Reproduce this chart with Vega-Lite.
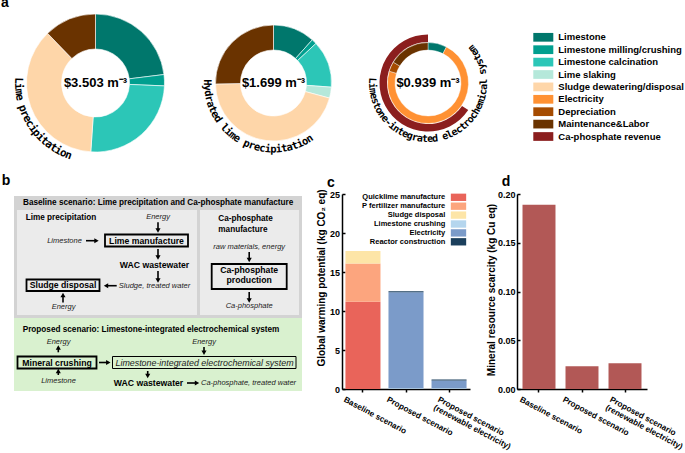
{
  "$schema": "https://vega.github.io/schema/vega-lite/v6.json",
  "background": "white",
  "padding": {"left": 1, "top": -5, "right": 0, "bottom": 0},
  "spacing": 12,
  "config": {
    "view": {"stroke": null},
    "font": "Liberation Sans",
    "text": {"color": "black"},
    "title": {"font": "Liberation Sans", "color": "black"}
  },
  "datasets": {
    "d1": [
      {"cat": "Limestone", "v": 0.807},
      {"cat": "Limestone milling/crushing", "v": 0.092},
      {"cat": "Limestone calcination", "v": 0.890},
      {"cat": "Sludge dewatering/disposal", "v": 1.285},
      {"cat": "Maintenance&Labor", "v": 0.428}
    ],
    "d2": [
      {"cat": "Limestone", "v": 0.198},
      {"cat": "Limestone milling/crushing", "v": 0.024},
      {"cat": "Limestone calcination", "v": 0.222},
      {"cat": "Lime slaking", "v": 0.052},
      {"cat": "Sludge dewatering/disposal", "v": 0.774},
      {"cat": "Maintenance&Labor", "v": 0.429}
    ],
    "d3in": [
      {"cat": "Limestone", "v": 0.205},
      {"cat": "Electricity", "v": 1.970},
      {"cat": "Depreciation", "v": 0.106},
      {"cat": "Maintenance&Labor", "v": 0.447}
    ],
    "d3out": [
      {"cat": "Net cost", "v": 0.939},
      {"cat": "Ca-phosphate revenue", "v": 1.789}
    ],
    "lab1": [{"c":"L"},{"c":"i"},{"c":"m"},{"c":"e"},{"c":" "},{"c":"p"},{"c":"r"},{"c":"e"},{"c":"c"},{"c":"i"},{"c":"p"},{"c":"i"},{"c":"t"},{"c":"a"},{"c":"t"},{"c":"i"},{"c":"o"},{"c":"n"}],
    "lab2": [{"c":"H"},{"c":"y"},{"c":"d"},{"c":"r"},{"c":"a"},{"c":"t"},{"c":"e"},{"c":"d"},{"c":" "},{"c":"l"},{"c":"i"},{"c":"m"},{"c":"e"},{"c":" "},{"c":"p"},{"c":"r"},{"c":"e"},{"c":"c"},{"c":"i"},{"c":"p"},{"c":"i"},{"c":"t"},{"c":"a"},{"c":"t"},{"c":"i"},{"c":"o"},{"c":"n"}],
    "lab3": [{"c":"L"},{"c":"i"},{"c":"m"},{"c":"e"},{"c":"s"},{"c":"t"},{"c":"o"},{"c":"n"},{"c":"e"},{"c":"-"},{"c":"i"},{"c":"n"},{"c":"t"},{"c":"e"},{"c":"g"},{"c":"r"},{"c":"a"},{"c":"t"},{"c":"e"},{"c":"d"},{"c":" "},{"c":"e"},{"c":"l"},{"c":"e"},{"c":"c"},{"c":"t"},{"c":"r"},{"c":"o"},{"c":"c"},{"c":"h"},{"c":"e"},{"c":"m"},{"c":"i"},{"c":"c"},{"c":"a"},{"c":"l"},{"c":" "},{"c":"s"},{"c":"y"},{"c":"s"},{"c":"t"},{"c":"e"},{"c":"m"}],
    "boxes": [
      {"kind": "baseline", "x": 1, "x2": 289, "y": 2, "y2": 124},
      {"kind": "inner", "x": 4, "x2": 184, "y": 16, "y2": 121},
      {"kind": "inner", "x": 187, "x2": 286, "y": 16, "y2": 121},
      {"kind": "proposed", "x": 1, "x2": 289, "y": 124, "y2": 197}
    ],
    "procs": [
      {"kind": "process", "x": 92, "x2": 175, "y": 40.5, "y2": 52.5},
      {"kind": "process", "x": 13.5, "x2": 86.5, "y": 85.5, "y2": 97},
      {"kind": "process", "x": 198.7, "x2": 273.7, "y": 70, "y2": 95},
      {"kind": "process", "x": 4.5, "x2": 83.5, "y": 162.5, "y2": 174.5},
      {"kind": "system", "x": 99.5, "x2": 283, "y": 162.5, "y2": 174.5}
    ],
    "texts": [
      {"kind": "header", "t": "Baseline scenario: Lime precipitation and Ca-phosphate manufacture", "x": 10, "y": 8.5},
      {"kind": "header", "t": "Proposed scenario: Limestone-integrated electrochemical system", "x": 9.7, "y": 135.7},
      {"kind": "header", "t": "Lime precipitation", "x": 12.7, "y": 24},
      {"kind": "header", "t": "Ca-phosphate", "x": 205.3, "y": 25},
      {"kind": "header", "t": "manufacture", "x": 205.3, "y": 35.7},
      {"kind": "proc", "t": "Lime manufacture", "x": 133.5, "y": 46.5},
      {"kind": "proc", "t": "WAC wastewater", "x": 141.5, "y": 71},
      {"kind": "proc", "t": "Sludge disposal", "x": 50, "y": 91.3},
      {"kind": "proc", "t": "Ca-phosphate", "x": 236.2, "y": 76},
      {"kind": "proc", "t": "production", "x": 236.2, "y": 86},
      {"kind": "proc", "t": "Mineral crushing", "x": 44, "y": 168.5},
      {"kind": "proc", "t": "WAC wastewater", "x": 135.5, "y": 189},
      {"kind": "flow", "t": "Energy", "x": 145, "y": 23.3},
      {"kind": "flow", "t": "Limestone", "x": 51.5, "y": 46.7},
      {"kind": "flow", "t": "Sludge, treated water", "x": 141.5, "y": 91.7},
      {"kind": "flow", "t": "Energy", "x": 50.5, "y": 113.3},
      {"kind": "flow", "t": "raw materials, energy", "x": 236.2, "y": 53},
      {"kind": "flow", "t": "Ca-phosphate", "x": 236.2, "y": 111.7},
      {"kind": "flow", "t": "Energy", "x": 45.5, "y": 148.3},
      {"kind": "flow", "t": "Energy", "x": 191, "y": 148.3},
      {"kind": "flow", "t": "Limestone", "x": 45.5, "y": 187.3},
      {"kind": "flowL", "t": "Ca-phosphate, treated water", "x": 188, "y": 189},
      {"kind": "sys", "t": "Limestone-integrated electrochemical system", "x": 191.5, "y": 168.5}
    ],
    "arrows": [
      {"dir": "down", "x": 145, "y": 28.3, "x2": 145, "y2": 36.5},
      {"dir": "right", "x": 73, "y": 46.7, "x2": 83.5, "y2": 46.7},
      {"dir": "down", "x": 145, "y": 55, "x2": 145, "y2": 63.5},
      {"dir": "down", "x": 145, "y": 77, "x2": 145, "y2": 86.5},
      {"dir": "left", "x": 103.7, "y": 91.7, "x2": 93, "y2": 91.7},
      {"dir": "up", "x": 50, "y": 108.5, "x2": 50, "y2": 101},
      {"dir": "down", "x": 236.2, "y": 58, "x2": 236.2, "y2": 66},
      {"dir": "down", "x": 236.2, "y": 98, "x2": 236.2, "y2": 106.5},
      {"dir": "up", "x": 45.3, "y": 158.3, "x2": 45.3, "y2": 153.5},
      {"dir": "up", "x": 45.3, "y": 181, "x2": 45.3, "y2": 177},
      {"dir": "right", "x": 86, "y": 168.5, "x2": 95.3, "y2": 168.5},
      {"dir": "down", "x": 191, "y": 153, "x2": 191, "y2": 158.8},
      {"dir": "down", "x": 134.7, "y": 177, "x2": 134.7, "y2": 182},
      {"dir": "right", "x": 174, "y": 189, "x2": 184, "y2": 189}
    ],
    "gwp": [
      {"scenario": "Baseline scenario", "src": "Quicklime manufacture", "v": 11.2},
      {"scenario": "Baseline scenario", "src": "P fertilizer manufacture", "v": 4.9},
      {"scenario": "Baseline scenario", "src": "Sludge disposal", "v": 1.6},
      {"scenario": "Proposed scenario", "src": "Limestone crushing", "v": 0.1},
      {"scenario": "Proposed scenario", "src": "Electricity", "v": 12.3},
      {"scenario": "Proposed scenario", "src": "Reactor construction", "v": 0.12},
      {"scenario": "Proposed scenario|(renewable electricity)", "src": "Limestone crushing", "v": 0.1},
      {"scenario": "Proposed scenario|(renewable electricity)", "src": "Electricity", "v": 1.0},
      {"scenario": "Proposed scenario|(renewable electricity)", "src": "Reactor construction", "v": 0.12}
    ],
    "mrs": [
      {"scenario": "Baseline scenario", "v": 0.189},
      {"scenario": "Proposed scenario", "v": 0.0233},
      {"scenario": "Proposed scenario|(renewable electricity)", "v": 0.0264}
    ]
  },
  "resolve": {
    "scale": {"color": "independent", "theta": "independent", "angle": "independent", "shape": "independent", "fill": "independent", "x": "independent", "y": "independent"},
    "legend": {"color": "independent", "fill": "independent", "shape": "independent"}
  },
  "vconcat": [
    {
      "bounds": "flush",
      "spacing": 0,
      "resolve": {
        "scale": {"color": "independent", "theta": "independent", "angle": "independent"},
        "legend": {"color": "independent"}
      },
      "hconcat": [
        {
          "width": 165,
          "height": 140,
          "title": {"text": "a", "anchor": "start", "frame": "group", "fontSize": 14, "fontWeight": "bold", "dx": -12, "offset": -8, "baseline": "alphabetic"},
          "layer": [
            {
              "data": {"name": "d1"},
              "transform": [{"window": [{"op": "row_number", "as": "k"}]}],
              "mark": {"type": "arc", "outerRadius": 69, "innerRadius": 34, "stroke": "white", "strokeWidth": 0.6},
              "encoding": {
                "theta": {"field": "v", "type": "quantitative", "stack": true},
                "order": {"field": "k", "type": "quantitative"},
                "color": {"field": "cat", "type": "nominal", "legend": null,
                  "scale": {"domain": ["Limestone", "Limestone milling/crushing", "Limestone calcination", "Lime slaking", "Sludge dewatering/disposal", "Electricity", "Depreciation", "Maintenance&Labor", "Ca-phosphate revenue"],
                            "range": ["#00776c", "#009f8f", "#2cc6b7", "#b5e8da", "#fed6a9", "#ff9133", "#a54b00", "#6a3300", "#8b1e1e"]}}
              }
            },
            {
              "data": {"values": [{"t": "$3.503 m\u207b\u00b3"}]},
              "mark": {"type": "text", "fontSize": 13, "fontWeight": "bold", "color": "black"},
              "encoding": {"text": {"field": "t"}}
            },
            {
              "data": {"name": "lab1"},
              "transform": [{"window": [{"op": "row_number", "as": "i"}]}],
              "mark": {"type": "text", "font": "DejaVu Sans Mono", "fontWeight": "bold", "fontSize": 11, "align": "center", "baseline": "middle", "color": "black"},
              "encoding": {
                "theta": {"field": "i", "type": "quantitative", "stack": null, "scale": {"domain": [1, 18], "range": [4.7438, 3.4977], "zero": false}},
                "radius": {"value": 77.5},
                "angle": {"field": "i", "type": "quantitative", "scale": {"domain": [1, 18], "range": [91.8, 20.4], "zero": false}},
                "text": {"field": "c"}
              }
            }
          ],
          "resolve": {"scale": {"theta": "independent"}}
        },
        {
          "width": 191,
          "height": 140,
          "layer": [
            {
              "data": {"name": "d2"},
              "transform": [{"window": [{"op": "row_number", "as": "k"}]}],
              "mark": {"type": "arc", "outerRadius": 58, "innerRadius": 33, "stroke": "white", "strokeWidth": 0.6},
              "encoding": {
                "theta": {"field": "v", "type": "quantitative", "stack": true},
                "order": {"field": "k", "type": "quantitative"},
                "color": {"field": "cat", "type": "nominal", "legend": null,
                  "scale": {"domain": ["Limestone", "Limestone milling/crushing", "Limestone calcination", "Lime slaking", "Sludge dewatering/disposal", "Electricity", "Depreciation", "Maintenance&Labor", "Ca-phosphate revenue"],
                            "range": ["#00776c", "#009f8f", "#2cc6b7", "#b5e8da", "#fed6a9", "#ff9133", "#a54b00", "#6a3300", "#8b1e1e"]}}
              }
            },
            {
              "data": {"values": [{"t": "$1.699 m\u207b\u00b3"}]},
              "mark": {"type": "text", "fontSize": 13, "fontWeight": "bold", "color": "black"},
              "encoding": {"text": {"field": "t"}}
            },
            {
              "data": {"name": "lab2"},
              "transform": [{"window": [{"op": "row_number", "as": "i"}]}],
              "mark": {"type": "text", "font": "DejaVu Sans Mono", "fontWeight": "bold", "fontSize": 10.5, "align": "center", "baseline": "middle", "color": "black"},
              "encoding": {
                "theta": {"field": "i", "type": "quantitative", "stack": null, "scale": {"domain": [1, 27], "range": [4.7194, 2.5639], "zero": false}},
                "radius": {"value": 66.5},
                "angle": {"field": "i", "type": "quantitative", "scale": {"domain": [1, 27], "range": [90.4, -33.1], "zero": false}},
                "text": {"field": "c"}
              }
            }
          ],
          "resolve": {"scale": {"theta": "independent"}}
        },
        {
          "width": 118,
          "height": 140,
          "layer": [
            {
              "data": {"name": "d3in"},
              "transform": [{"window": [{"op": "row_number", "as": "k"}]}],
              "mark": {"type": "arc", "outerRadius": 40.5, "innerRadius": 33, "stroke": "white", "strokeWidth": 0.4},
              "encoding": {
                "theta": {"field": "v", "type": "quantitative", "stack": true},
                "order": {"field": "k", "type": "quantitative"},
                "color": {"field": "cat", "type": "nominal",
                  "scale": {"domain": ["Limestone", "Limestone milling/crushing", "Limestone calcination", "Lime slaking", "Sludge dewatering/disposal", "Electricity", "Depreciation", "Maintenance&Labor", "Ca-phosphate revenue"],
                            "range": ["#00776c", "#009f8f", "#2cc6b7", "#b5e8da", "#fed6a9", "#ff9133", "#a54b00", "#6a3300", "#8b1e1e"]},
                  "legend": {"orient": "none", "legendX": 169.3, "legendY": 19.3, "title": null, "padding": 0,
                    "symbolType": "M-2.11,-0.92H2.11V0.92H-2.11Z", "symbolSize": 90, "symbolStrokeWidth": 0,
                    "labelFont": "Liberation Sans", "labelFontSize": 9.5, "labelFontWeight": "bold", "labelColor": "black",
                    "labelOffset": 10, "rowPadding": 2.4, "labelLimit": 200}}
              }
            },
            {
              "data": {"name": "d3out"},
              "transform": [{"window": [{"op": "row_number", "as": "k"}]}],
              "mark": {"type": "arc", "outerRadius": 48.5, "innerRadius": 41},
              "encoding": {
                "theta": {"field": "v", "type": "quantitative", "stack": true},
                "order": {"field": "k", "type": "quantitative"},
                "color": {"condition": {"test": "datum.cat === 'Net cost'", "value": "transparent"},
                  "field": "cat", "type": "nominal",
                  "scale": {"domain": ["Limestone", "Limestone milling/crushing", "Limestone calcination", "Lime slaking", "Sludge dewatering/disposal", "Electricity", "Depreciation", "Maintenance&Labor", "Ca-phosphate revenue"],
                            "range": ["#00776c", "#009f8f", "#2cc6b7", "#b5e8da", "#fed6a9", "#ff9133", "#a54b00", "#6a3300", "#8b1e1e"]},
                  "legend": {"orient": "none", "legendX": 169.3, "legendY": 19.3, "title": null, "padding": 0,
                    "symbolType": "M-2.11,-0.92H2.11V0.92H-2.11Z", "symbolSize": 90, "symbolStrokeWidth": 0,
                    "labelFont": "Liberation Sans", "labelFontSize": 9.5, "labelFontWeight": "bold", "labelColor": "black",
                    "labelOffset": 10, "rowPadding": 2.4, "labelLimit": 200}}
              }
            },
            {
              "data": {"values": [{"t": "$0.939 m\u207b\u00b3"}]},
              "mark": {"type": "text", "fontSize": 13, "fontWeight": "bold", "color": "black"},
              "encoding": {"text": {"field": "t"}}
            },
            {
              "data": {"name": "lab3"},
              "transform": [{"window": [{"op": "row_number", "as": "i"}]}],
              "mark": {"type": "text", "font": "DejaVu Sans Mono", "fontWeight": "bold", "fontSize": 10, "align": "center", "baseline": "middle", "color": "black"},
              "encoding": {
                "theta": {"field": "i", "type": "quantitative", "stack": null, "scale": {"domain": [1, 43], "range": [4.7525, 0.9076], "zero": false}},
                "radius": {"value": 56},
                "angle": {"field": "i", "type": "quantitative", "scale": {"domain": [1, 43], "range": [92.3, -128], "zero": false}},
                "text": {"field": "c"}
              }
            }
          ],
          "resolve": {"scale": {"theta": "independent"}}
        }
      ]
    },
    {
      "bounds": "flush",
      "spacing": 0,
      "resolve": {
        "scale": {"color": "independent", "shape": "independent", "fill": "independent", "x": "independent", "y": "independent"},
        "legend": {"color": "independent"}
      },
      "hconcat": [
        {
          "width": 329,
          "height": 197,
          "title": {"text": "b", "anchor": "start", "frame": "group", "fontSize": 14, "fontWeight": "bold", "dx": -11.3, "offset": -5.1, "baseline": "alphabetic"},
          "layer": [
            {
              "data": {"name": "boxes"},
              "mark": {"type": "rect"},
              "encoding": {
                "x": {"field": "x", "type": "quantitative", "scale": {"domain": [0, 329], "nice": false}, "axis": null},
                "x2": {"field": "x2"},
                "y": {"field": "y", "type": "quantitative", "scale": {"domain": [0, 197], "nice": false, "reverse": true}, "axis": null},
                "y2": {"field": "y2"},
                "fill": {"field": "kind", "type": "nominal", "legend": null, "scale": {"domain": ["baseline", "inner", "proposed"], "range": ["#d3d3d3", "#ebebeb", "#d9f1cf"]}}
              }
            },
            {
              "data": {"name": "procs"},
              "transform": [{"filter": "datum.kind === 'process'"}],
              "mark": {"type": "rect", "filled": false, "color": "black", "strokeWidth": 1.8},
              "encoding": {
                "x": {"field": "x", "type": "quantitative", "scale": {"domain": [0, 329], "nice": false}, "axis": null},
                "x2": {"field": "x2"},
                "y": {"field": "y", "type": "quantitative", "scale": {"domain": [0, 197], "nice": false, "reverse": true}, "axis": null},
                "y2": {"field": "y2"}
              }
            },
            {
              "data": {"name": "procs"},
              "transform": [{"filter": "datum.kind === 'system'"}],
              "mark": {"type": "rect", "filled": false, "color": "black", "strokeWidth": 1},
              "encoding": {
                "x": {"field": "x", "type": "quantitative", "scale": {"domain": [0, 329], "nice": false}, "axis": null},
                "x2": {"field": "x2"},
                "y": {"field": "y", "type": "quantitative", "scale": {"domain": [0, 197], "nice": false, "reverse": true}, "axis": null},
                "y2": {"field": "y2"}
              }
            },
            {
              "data": {"name": "arrows"},
              "mark": {"type": "rule", "color": "black", "strokeWidth": 1.6},
              "encoding": {
                "x": {"field": "x", "type": "quantitative", "scale": {"domain": [0, 329], "nice": false}, "axis": null},
                "x2": {"field": "x2"},
                "y": {"field": "y", "type": "quantitative", "scale": {"domain": [0, 197], "nice": false, "reverse": true}, "axis": null},
                "y2": {"field": "y2"}
              }
            },
            {
              "data": {"name": "arrows"},
              "mark": {"type": "point", "filled": true, "color": "black", "opacity": 1, "size": 26},
              "encoding": {
                "x": {"field": "x2", "type": "quantitative", "scale": {"domain": [0, 329], "nice": false}, "axis": null},
                "y": {"field": "y2", "type": "quantitative", "scale": {"domain": [0, 197], "nice": false, "reverse": true}, "axis": null},
                "shape": {"field": "dir", "type": "nominal", "legend": null, "scale": {"domain": ["down", "up", "left", "right"], "range": ["triangle-down", "triangle-up", "triangle-left", "triangle-right"]}}
              }
            },
            {
              "data": {"name": "texts"},
              "transform": [{"filter": "datum.kind === 'header'"}],
              "mark": {"type": "text", "align": "left", "baseline": "middle", "fontSize": 8.2, "fontWeight": "bold", "color": "black"},
              "encoding": {
                "x": {"field": "x", "type": "quantitative", "scale": {"domain": [0, 329], "nice": false}, "axis": null},
                "y": {"field": "y", "type": "quantitative", "scale": {"domain": [0, 197], "nice": false, "reverse": true}, "axis": null},
                "text": {"field": "t"}
              }
            },
            {
              "data": {"name": "texts"},
              "transform": [{"filter": "datum.kind === 'proc'"}],
              "mark": {"type": "text", "align": "center", "baseline": "middle", "fontSize": 8.7, "fontWeight": "bold", "color": "black"},
              "encoding": {
                "x": {"field": "x", "type": "quantitative", "scale": {"domain": [0, 329], "nice": false}, "axis": null},
                "y": {"field": "y", "type": "quantitative", "scale": {"domain": [0, 197], "nice": false, "reverse": true}, "axis": null},
                "text": {"field": "t"}
              }
            },
            {
              "data": {"name": "texts"},
              "transform": [{"filter": "datum.kind === 'flow'"}],
              "mark": {"type": "text", "align": "center", "baseline": "middle", "fontSize": 7.5, "fontStyle": "italic", "color": "#222222"},
              "encoding": {
                "x": {"field": "x", "type": "quantitative", "scale": {"domain": [0, 329], "nice": false}, "axis": null},
                "y": {"field": "y", "type": "quantitative", "scale": {"domain": [0, 197], "nice": false, "reverse": true}, "axis": null},
                "text": {"field": "t"}
              }
            },
            {
              "data": {"name": "texts"},
              "transform": [{"filter": "datum.kind === 'flowL'"}],
              "mark": {"type": "text", "align": "left", "baseline": "middle", "fontSize": 7.5, "fontStyle": "italic", "color": "#222222"},
              "encoding": {
                "x": {"field": "x", "type": "quantitative", "scale": {"domain": [0, 329], "nice": false}, "axis": null},
                "y": {"field": "y", "type": "quantitative", "scale": {"domain": [0, 197], "nice": false, "reverse": true}, "axis": null},
                "text": {"field": "t"}
              }
            },
            {
              "data": {"name": "texts"},
              "transform": [{"filter": "datum.kind === 'sys'"}],
              "mark": {"type": "text", "align": "center", "baseline": "middle", "fontSize": 8.9, "fontStyle": "italic", "color": "#222222"},
              "encoding": {
                "x": {"field": "x", "type": "quantitative", "scale": {"domain": [0, 329], "nice": false}, "axis": null},
                "y": {"field": "y", "type": "quantitative", "scale": {"domain": [0, 197], "nice": false, "reverse": true}, "axis": null},
                "text": {"field": "t"}
              }
            }
          ]
        },
        {
          "width": 128,
          "height": 195,
          "title": {"text": "c", "anchor": "start", "frame": "group", "fontSize": 14, "fontWeight": "bold", "dx": -15, "offset": -12, "baseline": "alphabetic"},
          "data": {"name": "gwp"},
          "transform": [{"window": [{"op": "row_number", "as": "k"}]}],
          "mark": {"type": "bar"},
          "encoding": {
            "x": {"field": "scenario", "type": "nominal", "sort": null,
              "scale": {"paddingInner": 0.186, "paddingOuter": 0.08},
              "axis": {"title": null, "labelAngle": 28, "labelAlign": "left", "labelBaseline": "top",
                "labelFont": "Liberation Sans", "labelFontSize": 8.2, "labelFontWeight": "bold", "labelColor": "black",
                "labelExpr": "split(datum.label, '|')", "labelLineHeight": 9,
                "labelOffset": {"condition": {"test": "indexof(datum.value, '|') >= 0", "value": -9}, "value": -17},
                "labelPadding": 3.5, "labelOverlap": false, "labelLimit": 200,
                "tickSize": 3, "tickWidth": 1.5, "tickColor": "black", "domainColor": "black", "domainWidth": 1.5}},
            "y": {"field": "v", "type": "quantitative", "stack": true,
              "scale": {"domain": [0, 25], "nice": false},
              "axis": {"title": "Global warming potential (kg CO\u2082 eq)", "titleFont": "Liberation Sans", "titleFontSize": 10, "titleFontWeight": "bold", "titleColor": "black",
                "titleX": -21, "titleY": 83.5, "titleAngle": -90, "titleAlign": "center", "titleBaseline": "middle",
                "values": [0, 5, 10, 15, 20, 25], "grid": false, "labelFlush": false,
                "labelFont": "Liberation Sans", "labelFontSize": 9, "labelFontWeight": "bold", "labelColor": "black",
                "tickSize": -3, "tickWidth": 1.5, "tickColor": "black", "labelPadding": 5.5,
                "domainColor": "black", "domainWidth": 1.5}},
            "color": {"field": "src", "type": "nominal",
              "scale": {"domain": ["Quicklime manufacture", "P fertilizer manufacture", "Sludge disposal", "Limestone crushing", "Electricity", "Reactor construction"],
                        "range": ["#e9645a", "#fca57e", "#fde5a7", "#b5d6ee", "#7b9bc9", "#1b3f5c"]},
              "legend": {"orient": "none", "legendX": 112.5, "legendY": -0.7, "title": null, "padding": 0,
                "symbolType": "M-2.05,-0.98H2.05V0.98H-2.05Z", "symbolSize": 56, "symbolStrokeWidth": 0,
                "labelAlign": "right", "labelOffset": -17.2, "labelFont": "Liberation Sans", "labelFontSize": 7.5, "labelFontWeight": "bold", "labelColor": "black",
                "rowPadding": 0.9, "labelLimit": 200}},
            "order": {"field": "k", "type": "quantitative"}
          }
        },
        {
          "width": 47,
          "height": 10,
          "data": {"values": [{}]},
          "mark": {"type": "point", "opacity": 0},
          "encoding": {}
        },
        {
          "width": 130,
          "height": 195,
          "title": {"text": "d", "anchor": "start", "frame": "group", "fontSize": 14, "fontWeight": "bold", "dx": -15.3, "offset": -10.3, "baseline": "alphabetic"},
          "data": {"name": "mrs"},
          "mark": {"type": "bar", "color": "#b25856"},
          "encoding": {
            "x": {"field": "scenario", "type": "nominal", "sort": null,
              "scale": {"paddingInner": 0.233, "paddingOuter": 0.128},
              "axis": {"title": null, "labelAngle": 28, "labelAlign": "left", "labelBaseline": "top",
                "labelFont": "Liberation Sans", "labelFontSize": 8.2, "labelFontWeight": "bold", "labelColor": "black",
                "labelExpr": "split(datum.label, '|')", "labelLineHeight": 9,
                "labelOffset": {"condition": {"test": "indexof(datum.value, '|') >= 0", "value": -13}, "value": -17},
                "labelPadding": 3.5, "labelOverlap": false, "labelLimit": 200,
                "tickSize": 3, "tickWidth": 1.5, "tickColor": "black", "domainColor": "black", "domainWidth": 1.5}},
            "y": {"field": "v", "type": "quantitative",
              "scale": {"domain": [0, 0.2], "nice": false},
              "axis": {"title": "Mineral resource scarcity (kg Cu eq)", "titleFont": "Liberation Sans", "titleFontSize": 10, "titleFontWeight": "bold", "titleColor": "black",
                "titleX": -26, "titleY": 95.5, "titleAngle": -90, "titleAlign": "center", "titleBaseline": "middle",
                "values": [0, 0.05, 0.1, 0.15, 0.2], "format": ".2f", "grid": false, "labelFlush": false,
                "labelFont": "Liberation Sans", "labelFontSize": 9, "labelFontWeight": "bold", "labelColor": "black",
                "tickSize": -3, "tickWidth": 1.5, "tickColor": "black", "labelPadding": 5,
                "domainColor": "black", "domainWidth": 1.5}}
          }
        }
      ]
    }
  ]
}
